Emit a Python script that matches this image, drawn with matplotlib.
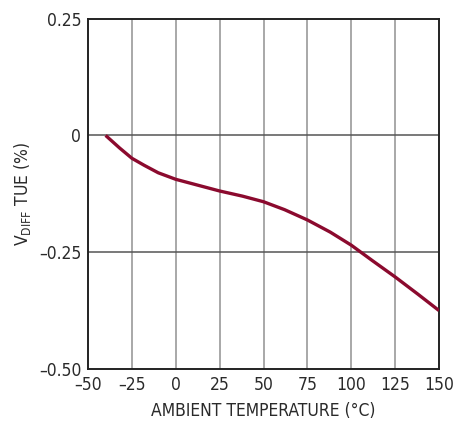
import matplotlib
matplotlib.use('Agg')
import matplotlib.pyplot as plt

# temperature sweep and total unadjusted error
temp_c = [-40, -32, -25, -18, -10, 0, 12, 25, 38, 50, 62, 75, 88, 100, 112, 125, 138, 150]
tue_pct = [0.0, -0.027, -0.049, -0.064, -0.080, -0.094, -0.106, -0.119, -0.130, -0.142,
           -0.159, -0.181, -0.207, -0.235, -0.268, -0.303, -0.340, -0.375]

x_ticks = [-50, -25, 0, 25, 50, 75, 100, 125, 150]
x_labels = ['\u201350', '\u201325', '0', '25', '50', '75', '100', '125', '150']
y_ticks = [-0.5, -0.25, 0, 0.25]
y_labels = ['\u20130.50', '\u20130.25', '0', '0.25']

plt.rcParams['font.family'] = ['DejaVu Sans']
plt.rcParams['font.stretch'] = 'condensed'

fig = plt.figure(figsize=(4.66, 4.25), dpi=100)
ax = fig.add_axes([0.189, 0.132, 0.753, 0.824])

ax.plot(temp_c, tue_pct, color='#8b0a2e', lw=2.4, solid_capstyle='butt', zorder=3)

ax.set_xlim(-50, 150)
ax.set_ylim(-0.5, 0.25)
ax.set_xticks(x_ticks)
ax.set_xticklabels(x_labels)
ax.set_yticks(y_ticks)
ax.set_yticklabels(y_labels)
ax.tick_params(length=0, labelsize=12.5, pad=5, colors='#2a2a2a')

for x in x_ticks[1:-1]:
    ax.axvline(x, color='#9a9a9a', lw=1.2, zorder=1)
for y in y_ticks[1:-1]:
    ax.axhline(y, color='#555555', lw=1.1, zorder=1)

for s in ax.spines.values():
    s.set_linewidth(1.4)
    s.set_color('#222222')

ax.set_xlabel('AMBIENT TEMPERATURE (\u00b0C)', fontsize=12.5, labelpad=6, color='#2a2a2a')
ax.set_ylabel(r'V$_{\mathregular{DIFF}}$ TUE (%)', fontsize=12.5, labelpad=4, color='#2a2a2a')

fig.savefig('out.png', dpi=100)
